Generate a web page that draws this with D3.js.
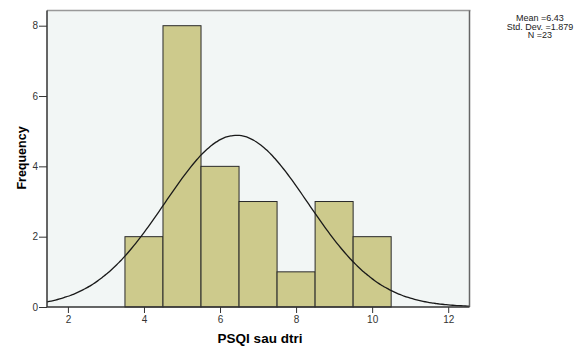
<!DOCTYPE html>
<html>
<head>
<meta charset="utf-8">
<script src="https://cdn.jsdelivr.net/npm/d3@7"></script>
<style>
  body { margin: 0; background: #fff; }
  svg text { font-family: "Liberation Sans", Arial, sans-serif; }
</style>
</head>
<body>
<div id="container"></div>
<script>
// histogram bins (lower edge, upper edge) and counts
var binStarts = [3.5, 4.5, 5.5, 6.5, 7.5, 8.5, 9.5];
var binEnds   = [4.5, 5.5, 6.5, 7.5, 8.5, 9.5, 10.5];
var counts    = [2, 8, 4, 3, 1, 3, 2];

// summary stats shown at the right
var statLabels = ["Mean =6.43", "Std. Dev. =1.879", "N =23"];
var mean = 6.43, sd = 1.879, n = 23;

var xTicks = [2, 4, 6, 8, 10, 12];
var yTicks = [0, 2, 4, 6, 8];

var width = 576, height = 347;
var plot = {left: 47, top: 10.5, right: 469.5, bottom: 307};

var svg = d3.select("#container")
    .append("svg")
    .attr("width", width)
    .attr("height", height);

var x = d3.scaleLinear().domain([1.45, 12.56]).range([plot.left, plot.right]);
var y = d3.scaleLinear().domain([0, 8]).range([plot.bottom, 25.7]);

// plot background
svg.append("rect")
    .attr("x", plot.left)
    .attr("y", plot.top)
    .attr("width", plot.right - plot.left)
    .attr("height", plot.bottom - plot.top)
    .attr("fill", "#f2f6f5");

// bars
svg.selectAll(".bar")
    .data(counts)
    .enter().append("rect")
    .attr("class", "bar")
    .attr("x", function(d, i){ return x(binStarts[i]); })
    .attr("y", function(d){ return y(d); })
    .attr("width", function(d, i){ return x(binEnds[i]) - x(binStarts[i]); })
    .attr("height", function(d){ return y(0) - y(d); })
    .attr("fill", "#cdca8c")
    .style("stroke", "#2a2a2a")
    .style("stroke-width", 1);

// fitted normal curve (bin width 1)
var curveX = d3.range(201).map(function(i){ return 1.45 + i * (12.56 - 1.45) / 200; });
var line = d3.line()
    .x(function(v){ return x(v); })
    .y(function(v){
        return y(n / (sd * Math.sqrt(2 * Math.PI)) * Math.exp(-0.5 * Math.pow((v - mean) / sd, 2)));
    })
    .curve(d3.curveBasis);

svg.append("path")
    .datum(curveX)
    .attr("d", line)
    .attr("fill", "none")
    .style("stroke", "#1a1a1a")
    .style("stroke-width", 1.3);

// frame: top gray, right darker
svg.append("line")
    .attr("x1", plot.left).attr("x2", plot.right + 1)
    .attr("y1", plot.top).attr("y2", plot.top)
    .style("stroke", "#999").style("stroke-width", 1.5);
svg.append("line")
    .attr("x1", plot.right).attr("x2", plot.right)
    .attr("y1", plot.top).attr("y2", plot.bottom)
    .style("stroke", "#666").style("stroke-width", 1.5);

// axes
var xAxis = d3.axisBottom(x).tickValues(xTicks).tickSize(6).tickSizeOuter(0);
var yAxis = d3.axisLeft(y).tickValues(yTicks).tickSize(8).tickSizeOuter(0);

var gx = svg.append("g")
    .attr("transform", "translate(0," + plot.bottom + ")")
    .call(xAxis);
gx.select(".domain").attr("d", "M" + plot.left + ",0H" + plot.right);

var gy = svg.append("g")
    .attr("transform", "translate(" + plot.left + ",0)")
    .call(yAxis);
gy.select(".domain").attr("d", "M0," + plot.top + "V" + plot.bottom);

svg.selectAll(".domain").style("stroke", "#333").style("stroke-width", 1.5);
svg.selectAll(".tick line").style("stroke", "#333");
svg.selectAll(".tick text")
    .style("font-size", "10px")
    .attr("fill", "#333");
gy.selectAll(".tick text").attr("x", -9);
gx.selectAll(".tick text").attr("y", 9);

// axis titles
svg.append("text")
    .attr("x", 260)
    .attr("y", 343)
    .attr("text-anchor", "middle")
    .style("font-size", "13.5px")
    .style("font-weight", "bold")
    .text("PSQI sau dtri");

svg.append("text")
    .attr("transform", "translate(26,158) rotate(-90)")
    .attr("text-anchor", "middle")
    .style("font-size", "12.5px")
    .style("font-weight", "bold")
    .text("Frequency");

// stats box text
svg.selectAll(".stat")
    .data(statLabels)
    .enter().append("text")
    .attr("class", "stat")
    .attr("x", 540)
    .attr("y", function(d, i){ return 21 + i * 8.5; })
    .attr("text-anchor", "middle")
    .style("font-size", "9px")
    .attr("fill", "#222")
    .text(function(d){ return d; });
</script>
</body>
</html>
